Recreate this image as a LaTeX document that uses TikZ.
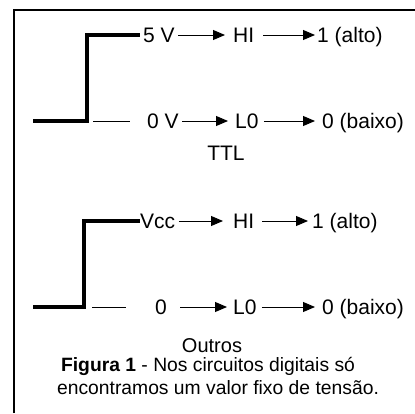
\documentclass[tikz,border=0pt]{standalone}
\usepackage{fontspec}
\setmainfont{Liberation Sans}
\usetikzlibrary{arrows.meta}

\begin{document}
\begin{tikzpicture}[x=1pt,y=-1pt,>={Triangle[length=12pt,width=10pt]},
every node/.style={font=\fontsize{21}{24}\selectfont,inner sep=1pt},
lbl/.style={anchor=base west,text height=15pt,text depth=0pt},
capt/.style={anchor=base,font=\fontsize{19.3}{22}\selectfont},
pulse/.style={line width=4.5pt,line join=miter},
arr/.style={->,line width=0.9pt,shorten <=2.5pt,shorten >=5pt},
%thin marks next to the low level
tick/.style={line width=0.9pt}
]
\useasboundingbox (0,0) rectangle (415,413);
\draw[line width=2pt] (14,413) -- (14,10) -- (415,10);

% TTL
\draw[pulse] (33,121) -- (87,121) -- (87,35) -- (140,35);
\draw[tick] (93,121) -- (130,121);
\node [lbl] (v5) at (142,42.5) {5 V};
\node [lbl] (hi1) at (232,42.5) {HI};
\node [lbl] (alto1) at (316,42.5) {1 (alto)};
\node [lbl] (v0) at (146,128.5) {0 V};
\node [lbl] (lo1) at (234,128.5) {L0};
\node [lbl] (baixo1) at (321,128.5) {0 (baixo)};
\draw[arr,shorten >=7pt] (v5.east) -- (hi1.west |- v5.east);
\draw[arr,shorten <=8pt,shorten >=1pt] (hi1.east) -- (alto1.west |- hi1.east);
\draw[arr,shorten >=6pt] (v0.east) -- (lo1.west |- v0.east);
\draw[arr,shorten <=4pt,shorten >=6pt] (lo1.east) -- (baixo1.west |- lo1.east);
\node [anchor=base] (ttl) at (226,160) {TTL};

% Outros
\draw[pulse] (33,307) -- (84,307) -- (84,221) -- (140,221);
\draw[tick] (92,307) -- (126,307);
\node [lbl] (vcc) at (139,228.5) {Vcc};
\node [lbl] (hi2) at (232,228.5) {HI};
\node [lbl] (alto2) at (311,228.5) {1 (alto)};
\node [lbl] (zero) at (154,314.5) {0};
\node [lbl] (lo2) at (232,314.5) {L0};
\node [lbl] (baixo2) at (321,314.5) {0 (baixo)};
\draw[arr,shorten >=9pt] (vcc.east) -- (hi2.west |- vcc.east);
\draw[arr,shorten <=7pt,shorten >=3pt] (hi2.east) -- (alto2.west |- hi2.east);
\draw[arr,shorten <=12pt] (zero.east) -- (lo2.west |- zero.east);
\draw[arr,shorten <=4pt,shorten >=6pt] (lo2.east) -- (baixo2.west |- lo2.east);
\node [anchor=base,font=\fontsize{20}{24}\selectfont] (outros) at (212,352) {Outros};

\node [capt] (cap1) at (208,371) {\textbf{Figura 1} - Nos circuitos digitais só};
\node [capt] (cap2) at (218,394) {encontramos um valor fixo de tensão.};
\end{tikzpicture}
\end{document}
